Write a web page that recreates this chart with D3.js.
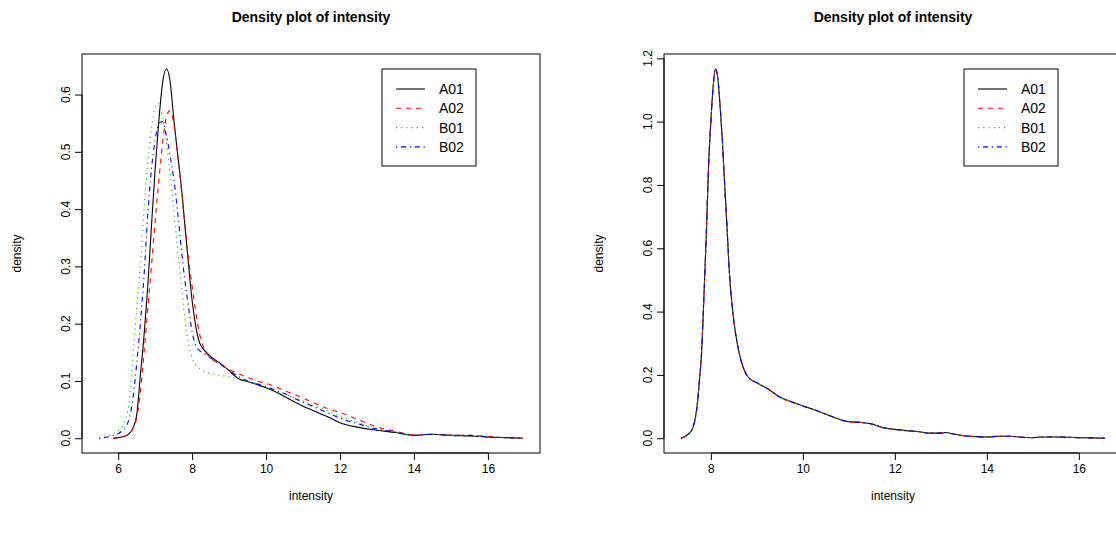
<!DOCTYPE html>
<html lang="en">
<head>
<meta charset="UTF-8">
<title>Density plot of intensity</title>
<script src="https://d3js.org/d3.v7.min.js"></script>
<style>
  body { margin: 0; background: #fff; }
  text { font-family: "Liberation Sans", Arial, sans-serif; fill: #000; }
</style>
</head>
<body>
<svg id="main" width="1116" height="533"></svg>
<script>
// samples
const samples = ['A01', 'A02', 'B01', 'B02'];

// left panel: raw intensities, density
const rawX = [5.48, 5.7, 5.87, 6.0, 6.15, 6.3, 6.4, 6.5, 6.6, 6.7,
    6.8, 6.9, 7.0, 7.1, 7.2, 7.3, 7.4, 7.5, 7.6, 7.7,
    7.8, 7.9, 8.0, 8.1, 8.2, 8.3, 8.5, 8.75, 9.0, 9.25,
    9.5, 9.75, 10, 10.25, 10.5, 10.75, 11, 11.25, 11.5, 11.75,
    12, 12.5, 13, 13.5, 14, 14.5, 15, 15.5, 16, 16.5, 16.95];
const rawA01 = [null, null, 0, 0.001, 0.003, 0.008, 0.018, 0.04, 0.11, 0.18,
    0.265, 0.37, 0.47, 0.555, 0.62, 0.645, 0.625, 0.56, 0.5, 0.445,
    0.375, 0.305, 0.24, 0.195, 0.167, 0.156, 0.143, 0.131, 0.118, 0.104,
    0.099, 0.094, 0.088, 0.081, 0.073, 0.064, 0.056, 0.049, 0.042, 0.035,
    0.027, 0.019, 0.014, 0.01, 0.005, 0.007, 0.005, 0.004, 0.002, 0.001, 0];
const rawA02 = [null, null, 0, 0.001, 0.003, 0.008, 0.017, 0.035, 0.08, 0.15,
    0.225, 0.3, 0.38, 0.45, 0.515, 0.56, 0.572, 0.55, 0.5, 0.44,
    0.375, 0.315, 0.265, 0.22, 0.182, 0.16, 0.14, 0.13, 0.12, 0.113,
    0.106, 0.1, 0.096, 0.09, 0.083, 0.077, 0.07, 0.063, 0.056, 0.05,
    0.045, 0.032, 0.02, 0.012, 0.006, 0.007, 0.005, 0.005, 0.003, 0.001, 0];
const rawB01 = [0, 0.003, 0.008, 0.013, 0.025, 0.065, 0.145, 0.225, 0.3, 0.4,
    0.48, 0.54, 0.578, 0.585, 0.56, 0.52, 0.465, 0.4, 0.335, 0.275,
    0.21, 0.165, 0.14, 0.128, 0.121, 0.117, 0.113, 0.11, 0.107, 0.103,
    0.1, 0.095, 0.089, 0.083, 0.077, 0.071, 0.065, 0.058, 0.052, 0.045,
    0.038, 0.027, 0.017, 0.011, 0.005, 0.006, 0.005, 0.004, 0.002, 0.001, 0];
const rawB02 = [0, 0.002, 0.005, 0.008, 0.016, 0.035, 0.07, 0.13, 0.2, 0.285,
    0.39, 0.47, 0.52, 0.55, 0.553, 0.53, 0.495, 0.455, 0.4, 0.335,
    0.277, 0.23, 0.185, 0.162, 0.153, 0.149, 0.14, 0.13, 0.118, 0.108,
    0.1, 0.095, 0.09, 0.084, 0.078, 0.07, 0.063, 0.056, 0.049, 0.042,
    0.035, 0.025, 0.016, 0.011, 0.005, 0.007, 0.005, 0.005, 0.002, 0.001, 0];

// right panel: normalised intensities (the four curves coincide)
const normX = [7.35, 7.5, 7.6, 7.65, 7.7, 7.75, 7.8, 7.85, 7.9, 7.95,
    8.0, 8.05, 8.1, 8.15, 8.2, 8.25, 8.3, 8.35, 8.4, 8.5,
    8.6, 8.7, 8.8, 9.0, 9.25, 9.5, 9.75, 10, 10.25, 10.5,
    10.75, 11, 11.25, 11.5, 11.75, 12, 12.25, 12.5, 12.75, 13,
    13.1, 13.25, 13.5, 13.75, 14, 14.25, 14.5, 14.75, 15, 15.25,
    15.5, 15.75, 16, 16.25, 16.57];
const normA01 = [0, 0.012, 0.03, 0.055, 0.1, 0.18, 0.275, 0.45, 0.64, 0.86,
    1.0, 1.11, 1.167, 1.14, 1.05, 0.94, 0.8, 0.67, 0.53, 0.37,
    0.28, 0.225, 0.195, 0.175, 0.155, 0.13, 0.115, 0.102, 0.09, 0.076,
    0.062, 0.052, 0.05, 0.045, 0.033, 0.028, 0.024, 0.021, 0.016, 0.016,
    0.018, 0.014, 0.008, 0.005, 0.004, 0.006, 0.006, 0.003, 0.002, 0.004,
    0.004, 0.003, 0.002, 0.001, 0];
const normA02 = normA01;
const normB01 = normA01;
const normB02 = normA01;

// ticks
const rawXTicks = [6, 8, 10, 12, 14, 16];
const rawYTicks = [0, 0.1, 0.2, 0.3, 0.4, 0.5, 0.6];
const normXTicks = [8, 10, 12, 14, 16];
const normYTicks = [0, 0.2, 0.4, 0.6, 0.8, 1.0, 1.2];

// line styles, R style: col 1..4, lty 1..4
const colors = ['#000000', '#FF0000', '#00CD00', '#0000FF'];
const dashes = [null, '5,5', '1.2,4', '1.2,3.8,5,3.8'];

const svg = d3.select('svg#main');
svg.append('rect').attr('width', 1116).attr('height', 533).attr('fill', '#fff');

function drawPanel(opt) {
    const left = opt.left, top = 54, w = 458, h = 399;
    const g = svg.append('g');

    const xr = d3.extent(opt.x);
    const xpad = (xr[1] - xr[0]) * 0.04;
    const x = d3.scaleLinear().domain([xr[0] - xpad, xr[1] + xpad]).range([left, left + w]);
    const ymax = d3.max(opt.series, s => d3.max(s));
    const y = d3.scaleLinear().domain([-0.04 * ymax, 1.04 * ymax]).range([top + h, top]);

    // curves
    const line = d3.line()
        .defined(d => d[1] != null)
        .x(d => x(d[0]))
        .y(d => y(d[1]))
        .curve(d3.curveMonotoneX);

    opt.series.forEach(function(s, i) {
        g.append('path')
            .datum(opt.x.map((v, j) => [v, s[j]]))
            .attr('d', line)
            .attr('fill', 'none')
            .attr('stroke', colors[i])
            .attr('stroke-width', 1.1)
            .attr('stroke-dasharray', dashes[i]);
    });

    // box
    g.append('rect')
        .attr('x', left).attr('y', top).attr('width', w).attr('height', h)
        .attr('fill', 'none').attr('stroke', '#000').attr('stroke-width', 1);

    // x axis
    const xa = g.append('g').attr('transform', 'translate(0,' + (top + h) + ')')
        .call(d3.axisBottom(x).tickValues(opt.xTicks).tickSize(7).tickPadding(4).tickFormat(d3.format('d')));
    xa.select('.domain').remove();
    xa.append('line')
        .attr('x1', x(opt.xTicks[0])).attr('x2', x(opt.xTicks[opt.xTicks.length - 1]))
        .attr('stroke', '#000');
    xa.selectAll('text').attr('font-size', 12).attr('fill', '#000')
        .style('font-family', '"Liberation Sans", Arial, sans-serif');

    // y axis
    const ya = g.append('g').attr('transform', 'translate(' + left + ',0)')
        .call(d3.axisLeft(y).tickValues(opt.yTicks).tickSize(7).tickFormat(''));
    ya.select('.domain').remove();
    ya.append('line')
        .attr('y1', y(opt.yTicks[0])).attr('y2', y(opt.yTicks[opt.yTicks.length - 1]))
        .attr('stroke', '#000');
    ya.selectAll('.ylab')
        .data(opt.yTicks)
        .enter()
        .append('text')
        .attr('class', 'ylab')
        .attr('transform', d => 'translate(-16,' + y(d) + ') rotate(-90)')
        .attr('text-anchor', 'middle')
        .attr('dy', '0.35em')
        .attr('font-size', 12)
        .text(d3.format('.1f'));

    // titles
    g.append('text')
        .attr('x', left + w / 2).attr('y', 22)
        .attr('text-anchor', 'middle')
        .attr('font-size', 14)
        .attr('font-weight', 'bold')
        .text('Density plot of intensity');
    g.append('text')
        .attr('x', left + w / 2).attr('y', top + h + 47)
        .attr('text-anchor', 'middle')
        .attr('font-size', 12)
        .text('intensity');
    g.append('text')
        .attr('transform', 'translate(' + (left - 61) + ',' + (top + h / 2) + ') rotate(-90)')
        .attr('text-anchor', 'middle')
        .attr('font-size', 12)
        .text('density');

    // legend
    const lx = left + 300, ly = top + 15;
    const lg = g.append('g').attr('transform', 'translate(' + lx + ',' + ly + ')');
    lg.append('rect').attr('width', 94).attr('height', 97)
        .attr('fill', '#fff').attr('stroke', '#000');
    samples.forEach(function(name, i) {
        const yy = 20 + i * 19.3;
        lg.append('line')
            .attr('x1', 14).attr('x2', 43).attr('y1', yy).attr('y2', yy)
            .attr('stroke', colors[i]).attr('stroke-width', 1.1)
            .attr('stroke-dasharray', dashes[i]);
        lg.append('text')
            .attr('x', 57).attr('y', yy).attr('dy', '0.35em')
            .attr('font-size', 14)
            .text(name);
    });
}

drawPanel({
    left: 82,
    x: rawX,
    series: [rawA01, rawA02, rawB01, rawB02],
    xTicks: rawXTicks,
    yTicks: rawYTicks
});

drawPanel({
    left: 664,
    x: normX,
    series: [normA01, normA02, normB01, normB02],
    xTicks: normXTicks,
    yTicks: normYTicks
});
</script>
</body>
</html>
